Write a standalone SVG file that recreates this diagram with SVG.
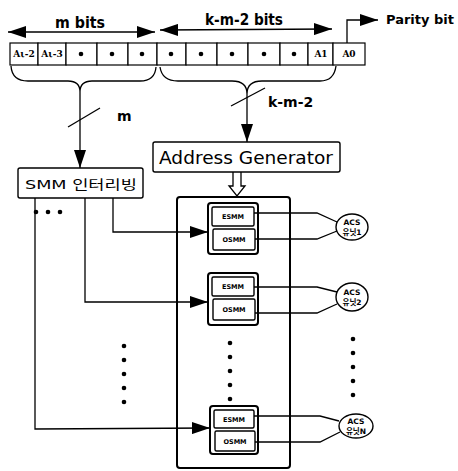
<svg xmlns="http://www.w3.org/2000/svg" width="458" height="471" viewBox="0 0 458 471">
  <defs>
    <marker id="head" viewBox="0 0 10 10" refX="10" refY="5" markerWidth="10" markerHeight="10" markerUnits="userSpaceOnUse" orient="auto-start-reverse">
      <path d="M0,0 L10,5 L0,10 Z" fill="#000"/>
    </marker>
    <marker id="bighead" viewBox="0 0 10 10" refX="10" refY="5" markerWidth="18" markerHeight="12" markerUnits="userSpaceOnUse" orient="auto-start-reverse" preserveAspectRatio="none">
      <path d="M0,0 L10,5 L0,10 Z" fill="#000"/>
    </marker>
  </defs>
  <style>
    .ln { stroke: #000; stroke-width: 1.3; fill: none; }
    .thick { stroke: #000; stroke-width: 2; fill: none; }
    .cell { stroke: #000; stroke-width: 1.2; fill: #fff; }
    .box { stroke: #000; stroke-width: 1.4; fill: #fff; }
    .t { font-family: "DejaVu Sans", "Noto Sans CJK KR", sans-serif; fill: #000; }
    .b { font-weight: bold; }
    .cellt { font-family: "DejaVu Serif", serif; font-size: 9px; font-weight: bold; text-anchor: middle; }
    .mem { font-family: "DejaVu Sans", sans-serif; font-size: 6.5px; font-weight: bold; text-anchor: middle; }
    .acs { font-family: "DejaVu Sans", "Noto Sans CJK KR", sans-serif; font-size: 7.5px; font-weight: bold; text-anchor: middle; }
  </style>
  <rect width="458" height="471" fill="#fff"/>

  <!-- bit field headings -->
  <g id="bit-spans">
    <line class="ln" x1="8" y1="32" x2="155" y2="32" marker-start="url(#bighead)" marker-end="url(#bighead)"/>
    <text class="t b" x="55" y="28" font-size="15" textLength="50" lengthAdjust="spacingAndGlyphs">m  bits</text>
    <line class="ln" x1="160" y1="30" x2="332" y2="29" marker-start="url(#bighead)" marker-end="url(#bighead)"/>
    <text class="t b" x="205" y="25" font-size="15" textLength="78" lengthAdjust="spacingAndGlyphs">k-m-2  bits</text>
  </g>

  <!-- address register cells -->
  <g id="register">
    <rect class="cell" x="10" y="43" width="28" height="22"/>
    <rect class="cell" x="38" y="43" width="28" height="22"/>
    <rect class="cell" x="66" y="43" width="31" height="22"/>
    <rect class="cell" x="97" y="43" width="31" height="22"/>
    <rect class="cell" x="128" y="43" width="29" height="22"/>
    <rect class="cell" x="157" y="43" width="29" height="22"/>
    <rect class="cell" x="186" y="43" width="31" height="22"/>
    <rect class="cell" x="217" y="43" width="31" height="22"/>
    <rect class="cell" x="248" y="43" width="32" height="22"/>
    <rect class="cell" x="280" y="43" width="28" height="22"/>
    <rect class="cell" x="308" y="43" width="25" height="22"/>
    <rect class="cell" x="333" y="43" width="32" height="22"/>
    <text class="t cellt" x="24" y="57">Aι-2</text>
    <text class="t cellt" x="52" y="57">Aι-3</text>
    <g fill="#000">
      <circle cx="81" cy="54" r="2.3"/>
      <circle cx="112" cy="54" r="2.3"/>
      <circle cx="142" cy="54" r="2.3"/>
      <circle cx="171" cy="54" r="2.3"/>
      <circle cx="201" cy="54" r="2.3"/>
      <circle cx="232" cy="54" r="2.3"/>
      <circle cx="264" cy="54" r="2.3"/>
      <circle cx="294" cy="54" r="2.3"/>
    </g>
    <text class="t cellt" x="321" y="57">A1</text>
    <text class="t cellt" x="349" y="57">A0</text>
  </g>

  <!-- parity bit output -->
  <g id="parity">
    <polyline class="ln" points="347,43 347,20 378,20" marker-end="url(#bighead)"/>
    <text class="t b" x="386" y="24" font-size="13">Parity bit</text>
  </g>

  <!-- address generator -->
  <g id="addr-gen">
    <rect class="box" x="153" y="142" width="187" height="30" rx="2"/>
    <text class="t" x="159" y="164" font-size="17" textLength="174" lengthAdjust="spacingAndGlyphs">Address Generator</text>
  </g>

  <!-- SMM interleaver -->
  <g id="smm">
    <rect class="box" x="18" y="168" width="125" height="30" rx="2"/>
    <text class="t" x="25" y="189" font-size="13" textLength="112" lengthAdjust="spacingAndGlyphs">SMM 인터리빙</text>
    <g fill="#000">
      <circle cx="36" cy="212" r="2.3"/>
      <circle cx="48" cy="212" r="2.3"/>
      <circle cx="60" cy="212" r="2.3"/>
      <circle cx="124" cy="346" r="2.3"/>
      <circle cx="124" cy="360" r="2.3"/>
      <circle cx="124" cy="374" r="2.3"/>
      <circle cx="124" cy="388" r="2.3"/>
      <circle cx="124" cy="402" r="2.3"/>
    </g>
  </g>

  <!-- memory bank -->
  <g id="bank">
    <rect class="thick" x="177" y="197" width="113" height="271" rx="3"/>
    <g fill="#000">
      <circle cx="230" cy="343" r="2.3"/>
      <circle cx="230" cy="357" r="2.3"/>
      <circle cx="230" cy="371" r="2.3"/>
      <circle cx="230" cy="385" r="2.3"/>
      <circle cx="230" cy="399" r="2.3"/>
    </g>
  </g>

  <g id="mem-1">
    <rect class="thick" x="208" y="203" width="50" height="51" rx="3"/>
    <rect class="box" x="212" y="207" width="42" height="19" rx="1.5"/>
    <rect class="box" x="213" y="229" width="42" height="21" rx="1.5"/>
    <text class="mem" x="233" y="219">ESMM</text>
    <text class="mem" x="234" y="242">OSMM</text>
  </g>
  <g id="mem-2">
    <rect class="thick" x="208" y="273" width="50" height="52" rx="3"/>
    <rect class="box" x="212" y="277" width="42" height="19" rx="1.5"/>
    <rect class="box" x="213" y="299" width="42" height="21" rx="1.5"/>
    <text class="mem" x="233" y="289">ESMM</text>
    <text class="mem" x="234" y="312">OSMM</text>
  </g>
  <g id="mem-n">
    <rect class="thick" x="210" y="406" width="48" height="48" rx="3"/>
    <rect class="box" x="214" y="410" width="40" height="18" rx="1.5"/>
    <rect class="box" x="215" y="431" width="40" height="20" rx="1.5"/>
    <text class="mem" x="234" y="422">ESMM</text>
    <text class="mem" x="235" y="444">OSMM</text>
  </g>

  <!-- ACS units -->
  <g id="acs-1">
    <ellipse class="box" cx="352" cy="227" rx="16" ry="13"/>
    <text class="acs" x="352" y="225">ACS</text>
    <text class="acs" x="352" y="235">유닛1</text>
  </g>
  <g id="acs-2">
    <ellipse class="box" cx="352" cy="297" rx="16" ry="14"/>
    <text class="acs" x="352" y="295">ACS</text>
    <text class="acs" x="352" y="305">유닛2</text>
  </g>
  <g id="acs-n">
    <ellipse class="box" cx="356" cy="426" rx="17" ry="12"/>
    <text class="acs" x="356" y="424">ACS</text>
    <text class="acs" x="356" y="434">유닛N</text>
  </g>
  <g id="acs-dots" fill="#000">
    <circle cx="353" cy="339" r="2.3"/>
    <circle cx="353" cy="353" r="2.3"/>
    <circle cx="353" cy="367" r="2.3"/>
    <circle cx="353" cy="381" r="2.3"/>
    <circle cx="353" cy="395" r="2.3"/>
  </g>

  <!-- connectors -->
  <g id="connectors">
    <!-- braces grouping the bit fields -->
    <path class="ln" d="M11,66 Q12,81 28,81 L68,81 Q80,81 80,92 Q80,81 92,81 L140,81 Q155,81 156,67"/>
    <path class="ln" d="M160,67 Q162,81 178,81 L232,81 Q247,81 247,94 Q247,81 262,81 L320,81 Q334,81 336,66"/>

    <!-- m bits to SMM interleaver -->
    <line class="ln" x1="80" y1="92" x2="80" y2="168" marker-end="url(#bighead)"/>
    <line class="ln" x1="68" y1="127" x2="100" y2="108"/>
    <text class="t b" x="117" y="121" font-size="14">m</text>

    <!-- k-m-2 bits to address generator -->
    <line class="ln" x1="247" y1="94" x2="247" y2="142" marker-end="url(#bighead)"/>
    <line class="ln" x1="231" y1="106" x2="265" y2="88"/>
    <text class="t b" x="268" y="107" font-size="14">k-m-2</text>

    <!-- hollow bus arrow into the bank -->
    <path class="ln" d="M233,172 L233,186 L229,186 L237,196 L245,186 L241,186 L241,172" fill="#fff"/>

    <!-- interleaver outputs -->
    <polyline class="ln" points="113,198 113,232 208,232" marker-end="url(#bighead)"/>
    <polyline class="ln" points="85,198 85,302 208,302" marker-end="url(#bighead)"/>
    <polyline class="ln" points="35,198 35,429 210,428" marker-end="url(#bighead)"/>

    <!-- memory outputs to ACS units -->
    <polyline class="ln" points="254,213 317,213 337,222"/>
    <polyline class="ln" points="255,239 317,239 337,231"/>
    <polyline class="ln" points="254,287 317,287 337,292"/>
    <polyline class="ln" points="255,313 317,313 337,304"/>
    <polyline class="ln" points="254,416 320,416 339,421"/>
    <polyline class="ln" points="255,442 320,442 340,432"/>
  </g>
</svg>
